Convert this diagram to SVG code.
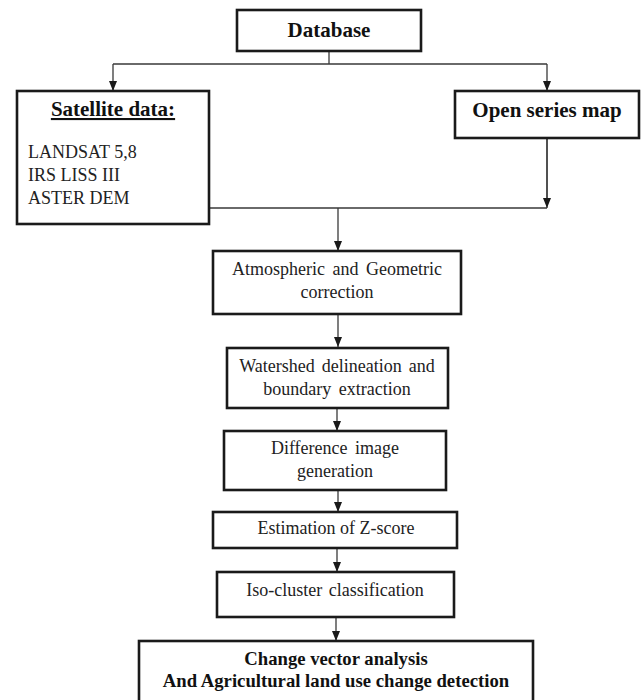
<svg xmlns="http://www.w3.org/2000/svg" width="643" height="700" viewBox="0 0 643 700">
<defs>
<marker id="ah" markerUnits="userSpaceOnUse" markerWidth="10" markerHeight="10" viewBox="0 0 10 10" refX="10" refY="5" orient="auto">
<path d="M0,1 L10,5 L0,9 Z" fill="#1a1a1a"/>
</marker>
<style>
.box{fill:#fff;stroke:#1a1a1a;stroke-width:2.6}
.con{fill:none;stroke:#3a3a3a;stroke-width:1.3}
.arr{fill:none;stroke:#3a3a3a;stroke-width:1.3;marker-end:url(#ah)}
.t{font-family:"Liberation Serif","Times New Roman",serif;font-size:18px;fill:#222;text-anchor:middle}
.b{font-family:"Liberation Serif","Times New Roman",serif;font-weight:bold;font-size:21px;fill:#111;text-anchor:middle}
.l{font-family:"Liberation Serif","Times New Roman",serif;font-size:18px;fill:#222}
</style>
</defs>
<rect width="643" height="700" fill="#fff"/>
<g id="connectors">
<path class="con" d="M329,51 V64 M113,64 H547 M547,138 V200 M209,208 H547"/>
<path class="arr" d="M113,64 V91"/>
<path class="arr" d="M547,64 V91"/>
<path class="arr" d="M547,138 V208"/>
<path class="arr" d="M338,208 V251"/>
<path class="arr" d="M338,314 V347"/>
<path class="arr" d="M337,408 V431"/>
<path class="arr" d="M338,490 V512"/>
<path class="arr" d="M337,548 V572"/>
<path class="arr" d="M336,617 V641"/>
</g>
<g id="database">
<rect class="box" x="237" y="10" width="184" height="41"/>
<text class="b" x="329" y="37">Database</text>
</g>
<g id="satellite">
<rect class="box" x="17" y="91" width="192" height="133"/>
<text class="b" x="113" y="116" text-decoration="underline">Satellite data:</text>
<text class="l" x="28" y="158">LANDSAT 5,8</text>
<text class="l" x="28" y="181">IRS LISS III</text>
<text class="l" x="28" y="204">ASTER DEM</text>
</g>
<g id="openseries">
<rect class="box" x="455" y="91" width="184" height="47"/>
<text class="b" x="547" y="117">Open series map</text>
</g>
<g id="atmospheric">
<rect class="box" x="213" y="251" width="248" height="63"/>
<text class="t" x="337" y="275" word-spacing="3">Atmospheric and Geometric</text>
<text class="t" x="337" y="298">correction</text>
</g>
<g id="watershed">
<rect class="box" x="227" y="348" width="221" height="60"/>
<text class="t" x="337" y="372" word-spacing="2.5">Watershed delineation and</text>
<text class="t" x="337" y="395" word-spacing="3">boundary extraction</text>
</g>
<g id="difference">
<rect class="box" x="224" y="431" width="222" height="59"/>
<text class="t" x="335" y="454" word-spacing="3">Difference image</text>
<text class="t" x="335" y="477">generation</text>
</g>
<g id="zscore">
<rect class="box" x="213" y="512" width="244" height="36"/>
<text class="t" x="336" y="534">Estimation of Z-score</text>
</g>
<g id="isocluster">
<rect class="box" x="217" y="572" width="237" height="45"/>
<text class="t" x="335" y="596" word-spacing="2">Iso-cluster classification</text>
</g>
<g id="cva">
<rect class="box" x="139" y="641" width="394" height="70"/>
<text class="b" x="336" y="665" style="font-size:18.7px">Change vector analysis</text>
<text class="b" x="336" y="687" style="font-size:18.7px">And Agricultural land use change detection</text>
</g>
</svg>
